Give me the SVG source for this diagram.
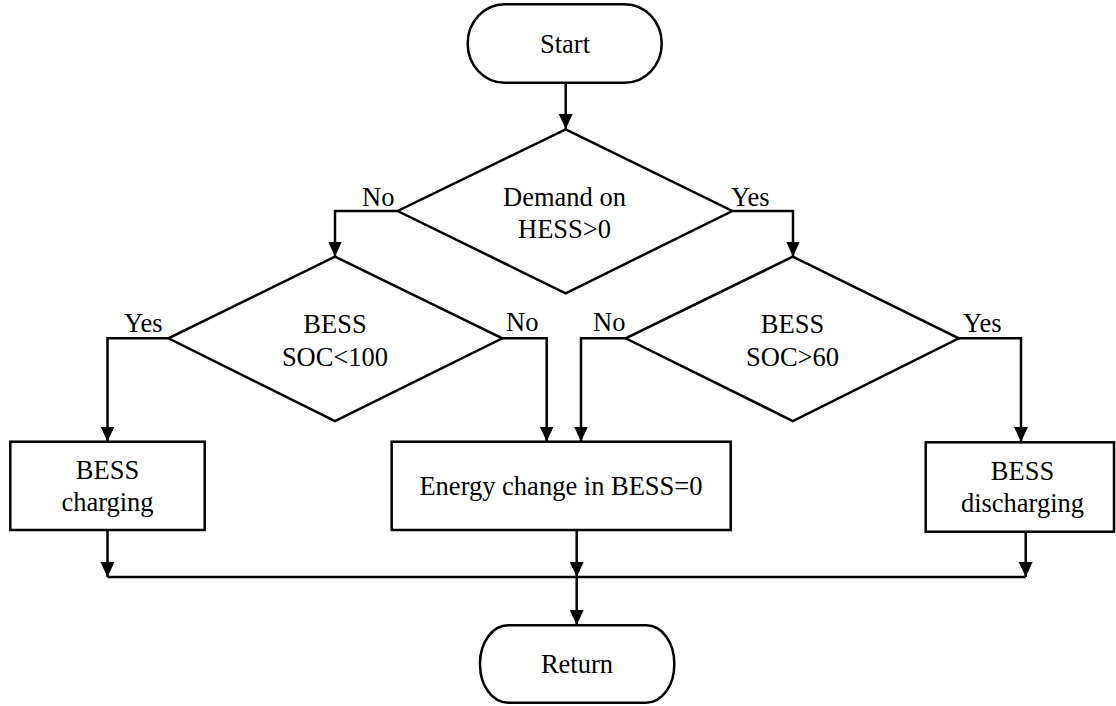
<svg xmlns="http://www.w3.org/2000/svg" width="1116" height="706" viewBox="0 0 1116 706">
<defs>
<marker id="arr" markerUnits="userSpaceOnUse" markerWidth="16" markerHeight="16" viewBox="0 0 16 16" refX="15" refY="8" orient="auto">
<path d="M0,1 L15,8 L0,15 Z" fill="#000"/>
</marker>
</defs>
<style>
.s{fill:#fff;stroke:#000;stroke-width:2.5}
.c{fill:none;stroke:#000;stroke-width:2.5}
text{font-family:"Liberation Serif","Times New Roman",serif;font-size:26.5px;fill:#000}
.m{text-anchor:middle}
</style>
<rect width="1116" height="706" fill="#fff"/>
<g id="connectors">
<path class="c" d="M565.7,83 V129" marker-end="url(#arr)"/>
<path class="c" d="M397.7,211 H335 V256.5" marker-end="url(#arr)"/>
<path class="c" d="M732.3,211 H793 V256.5" marker-end="url(#arr)"/>
<path class="c" d="M168.4,338.3 H107.5 V441.5" marker-end="url(#arr)"/>
<path class="c" d="M502.3,338.3 H546.7 V441.5" marker-end="url(#arr)"/>
<path class="c" d="M625.7,338.3 H581 V441.5" marker-end="url(#arr)"/>
<path class="c" d="M958.8,338.3 H1021 V442" marker-end="url(#arr)"/>
<path class="c" d="M107.5,530 V577" marker-end="url(#arr)"/>
<path class="c" d="M576.7,530 V577" marker-end="url(#arr)"/>
<path class="c" d="M1025.7,532 V577" marker-end="url(#arr)"/>
<path class="c" d="M107.5,577 H1025.7"/>
<path class="c" d="M576.7,577 V625" marker-end="url(#arr)"/>
<text x="362" y="206">No</text>
<text x="731" y="206">Yes</text>
<text x="124" y="332">Yes</text>
<text x="506" y="331">No</text>
<text x="593" y="331">No</text>
<text x="963" y="332">Yes</text>
</g>
<g id="start">
<rect class="s" x="467.7" y="4.3" width="194" height="78.4" rx="37" ry="39"/>
<text class="m" x="565" y="52.5">Start</text>
</g>
<g id="demand">
<polygon class="s" points="565.7,129.3 732.3,211 565.7,293.3 397.7,211"/>
<text class="m" x="564.5" y="206">Demand on</text>
<text class="m" x="564.5" y="238">HESS&gt;0</text>
</g>
<g id="soc100">
<polygon class="s" points="335,256.7 502.3,338.3 335,421 168.4,338.3"/>
<text class="m" x="335" y="333">BESS</text>
<text class="m" x="335" y="366">SOC&lt;100</text>
</g>
<g id="soc60">
<polygon class="s" points="792.8,256.7 958.8,338.3 792.8,421 625.7,338.3"/>
<text class="m" x="792.5" y="333">BESS</text>
<text class="m" x="792.5" y="366">SOC&gt;60</text>
</g>
<g id="charging">
<rect class="s" x="10.3" y="441.7" width="194.4" height="88.3"/>
<text class="m" x="107.5" y="478.5">BESS</text>
<text class="m" x="107.5" y="510.5">charging</text>
</g>
<g id="zero">
<rect class="s" x="391.7" y="441.7" width="339" height="88.3"/>
<text class="m" x="561" y="494.5">Energy change in BESS=0</text>
</g>
<g id="discharging">
<rect class="s" x="925.7" y="442.3" width="188.3" height="89.4"/>
<text class="m" x="1022.5" y="479.5">BESS</text>
<text class="m" x="1022.5" y="511.5">discharging</text>
</g>
<g id="return">
<rect class="s" x="480" y="625.3" width="194.3" height="77.4" rx="28" ry="38"/>
<text class="m" x="577" y="673">Return</text>
</g>
</svg>
